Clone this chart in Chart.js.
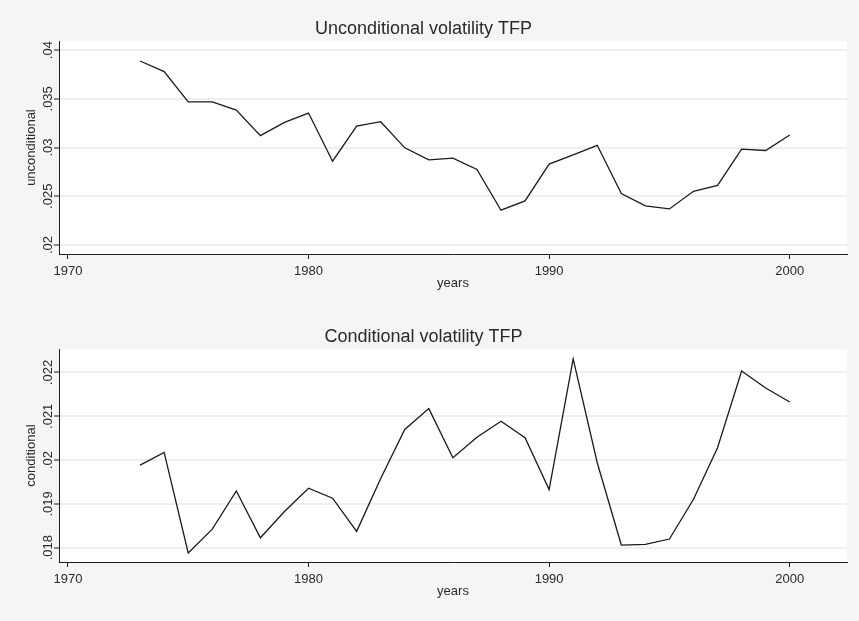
<!DOCTYPE html>
<html>
<head>
<meta charset="utf-8">
<script src="https://cdn.jsdelivr.net/npm/chart.js@4/dist/chart.umd.min.js"></script>
<style>
    html, body { margin: 0; padding: 0; background: #f5f5f5; }
    body { width: 859px; height: 621px; position: relative; overflow: hidden; }
    canvas { position: absolute; left: 0; }
    #uncondChart { top: 0px; }
    #condChart { top: 308px; }
</style>
</head>
<body>
<canvas id="uncondChart" width="859" height="310"></canvas>
<canvas id="condChart" width="859" height="310"></canvas>

<script>
const years = [1973, 1974, 1975, 1976, 1977, 1978, 1979, 1980, 1981, 1982, 1983, 1984, 1985, 1986,
    1987, 1988, 1989, 1990, 1991, 1992, 1993, 1994, 1995, 1996, 1997, 1998, 1999, 2000];

const unconditional = [0.03888, 0.03779, 0.03469, 0.03469, 0.03384, 0.03122, 0.03258, 0.03354,
    0.02860, 0.03221, 0.03265, 0.02997, 0.02874, 0.02891, 0.02776, 0.02357, 0.02452, 0.02830,
    0.02925, 0.03023, 0.02528, 0.02401, 0.02370, 0.02551, 0.02612, 0.02983, 0.02970, 0.03129];

const conditional = [0.019886, 0.020175, 0.017880, 0.018425, 0.019295, 0.018227, 0.018827, 0.019357,
    0.019130, 0.018373, 0.019580, 0.020698, 0.021175, 0.020055, 0.020523, 0.020886, 0.020509, 0.019327,
    0.022311, 0.019940, 0.018061, 0.018077, 0.018198, 0.019107, 0.020282, 0.022032, 0.021645, 0.021327];

const yearTicks = [1970, 1980, 1990, 2000];
const uncondTicks = [0.02, 0.025, 0.03, 0.035, 0.04];
const uncondTickLabels = ['.02', '.025', '.03', '.035', '.04'];
const condTicks = [0.018, 0.019, 0.02, 0.021, 0.022];
const condTickLabels = ['.018', '.019', '.02', '.021', '.022'];

const fontFamily = '"Liberation Sans", Arial, Helvetica, sans-serif';
const textColor = '#2a2a2a';
const axisColor = '#1e1e1e';

// white plot region on the grey page
const plotBackground = {
    id: 'plotBackground',
    beforeDraw: (chart) => {
        const { ctx, chartArea: { left, top, right, bottom } } = chart;
        ctx.save();
        ctx.fillStyle = '#ffffff';
        ctx.fillRect(left, top, right - left, bottom - top);
        ctx.restore();
    }
};

function makeChart(canvasId, title, yTitle, values, yMin, yMax, yTicks, yLabels) {
    const ctx = document.getElementById(canvasId);

    const data = {
        datasets: [{
            data: years.map((yr, i) => ({ x: yr, y: values[i] })),
            borderColor: '#1a1a1a',
            borderWidth: 1.3,
            pointRadius: 0,
            tension: 0,
            fill: false
        }]
    };

    const config = {
        type: 'line',
        data: data,
        options: {
            responsive: false,
            animation: false,
            layout: {
                padding: { left: 0, right: 12, top: 0, bottom: 0 }
            },
            plugins: {
                legend: { display: false },
                tooltip: { enabled: false },
                title: {
                    display: true,
                    text: title,
                    color: textColor,
                    font: { family: fontFamily, size: 18, weight: 'normal' },
                    padding: { top: 18.5, bottom: 1 }
                }
            },
            scales: {
                x: {
                    type: 'linear',
                    min: 1969.63,
                    max: 2002.38,
                    afterBuildTicks: (scale) => {
                        scale.ticks = yearTicks.map(v => ({ value: v }));
                    },
                    afterFit: (scale) => { scale.height = 56; },
                    ticks: {
                        color: textColor,
                        font: { family: fontFamily, size: 13 },
                        padding: 5,
                        maxRotation: 0,
                        autoSkip: false,
                        callback: (v) => String(v)
                    },
                    grid: {
                        drawOnChartArea: false,
                        drawTicks: true,
                        tickLength: 5,
                        tickColor: axisColor
                    },
                    border: { display: true, color: axisColor, width: 1 },
                    title: {
                        display: true,
                        text: 'years',
                        color: textColor,
                        font: { family: fontFamily, size: 13 },
                        padding: { top: 0, bottom: 19 }
                    }
                },
                y: {
                    min: yMin,
                    max: yMax,
                    afterBuildTicks: (scale) => {
                        scale.ticks = yTicks.map(v => ({ value: v }));
                    },
                    afterFit: (scale) => { scale.width = 59; },
                    ticks: {
                        color: textColor,
                        font: { family: fontFamily, size: 13 },
                        minRotation: 90,
                        maxRotation: 90,
                        crossAlign: 'center',
                        padding: -7,
                        autoSkip: false,
                        callback: (v, i) => yLabels[i]
                    },
                    grid: {
                        color: '#efefef',
                        lineWidth: 2,
                        drawTicks: true,
                        tickLength: 5,
                        tickColor: axisColor,
                        tickWidth: 1
                    },
                    border: { display: true, color: axisColor, width: 1 },
                    title: {
                        display: true,
                        text: yTitle,
                        color: textColor,
                        font: { family: fontFamily, size: 13 },
                        padding: { top: 24, bottom: 0 }
                    }
                }
            }
        },
        plugins: [plotBackground]
    };

    return new Chart(ctx, config);
}

makeChart('uncondChart', 'Unconditional volatility TFP', 'unconditional', unconditional,
    0.019077, 0.040923, uncondTicks, uncondTickLabels);
makeChart('condChart', 'Conditional volatility TFP', 'conditional', conditional,
    0.017674, 0.022534, condTicks, condTickLabels);
</script>
</body>
</html>
